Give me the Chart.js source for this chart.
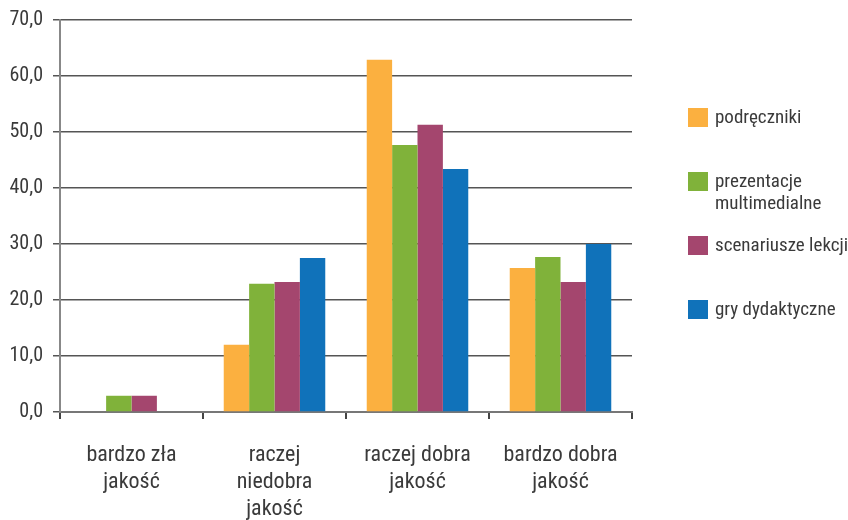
<!DOCTYPE html>
<html>
<head>
<meta charset="utf-8">
<script src="https://cdn.jsdelivr.net/npm/chart.js@4"></script>
<style>
  body { margin: 0; background: #fff; }
  canvas { display: block; }
</style>
</head>
<body>
<canvas id="myChart" width="848" height="520"></canvas>
<script>
// dane z wykresu
const kategorie = [
    ['bardzo zła', 'jakość'],
    ['raczej', 'niedobra', 'jakość'],
    ['raczej dobra', 'jakość'],
    ['bardzo dobra', 'jakość']
];
const serie = ['podręczniki', 'prezentacje multimedialne', 'scenariusze lekcji', 'gry dydaktyczne'];
const podreczniki = [0, 12.0, 62.9, 25.7];
const prezentacje = [2.9, 22.9, 47.7, 27.7];
const scenariusze = [2.9, 23.2, 51.3, 23.2];
const gry = [0, 27.5, 43.4, 30.0];
const yTicks = [0, 10, 20, 30, 40, 50, 60, 70];

const kolory = ['#FBB040', '#80B23A', '#A4466E', '#1072BA'];
const FONT = "'Roboto Condensed', 'DejaVu Sans Condensed', sans-serif";

// legenda rysowana na canvasie, po prawej stronie
const legendaPlugin = {
    id: 'legenda',
    afterDraw(chart) {
        const ctx = chart.ctx;
        ctx.save();
        ctx.font = '19px ' + FONT;
        ctx.textBaseline = 'middle';
        const x = 688, maxW = 135;
        chart.data.datasets.forEach((ds, i) => {
            const top = 108 + i * 64;
            ctx.fillStyle = ds.backgroundColor;
            ctx.fillRect(x, top, 20, 19);
            // zawijanie tekstu
            const slowa = ds.label.split(' ');
            const linie = [];
            let biezaca = '';
            slowa.forEach(s => {
                const test = biezaca ? biezaca + ' ' + s : s;
                if (ctx.measureText(test).width > maxW && biezaca) {
                    linie.push(biezaca);
                    biezaca = s;
                } else {
                    biezaca = test;
                }
            });
            linie.push(biezaca);
            ctx.fillStyle = '#3a3a3a';
            linie.forEach((l, j) => ctx.fillText(l, x + 27, top + 10 + j * 22));
        });
        ctx.restore();
    }
};

const ctx = document.getElementById('myChart').getContext('2d');
new Chart(ctx, {
    type: 'bar',
    data: {
        labels: kategorie,
        datasets: [podreczniki, prezentacje, scenariusze, gry].map((d, i) => ({
            label: serie[i],
            data: d,
            backgroundColor: kolory[i],
            borderWidth: 0,
            barPercentage: 1,
            categoryPercentage: 0.71
        }))
    },
    options: {
        responsive: false,
        animation: false,
        layout: { padding: { top: 20, right: 216, left: 0, bottom: 0 } },
        plugins: {
            legend: { display: false },
            tooltip: { enabled: false }
        },
        scales: {
            x: {
                grid: {
                    offset: true,
                    drawOnChartArea: true,
                    color: c => c.index === kategorie.length ? '#888' : 'rgba(0,0,0,0)',
                    lineWidth: 2,
                    tickColor: '#444',
                    tickLength: 7
                },
                border: { color: '#777', width: 2 },
                ticks: {
                    autoSkip: false,
                    maxRotation: 0,
                    color: '#3a3a3a',
                    padding: 23,
                    font: { family: FONT, size: 22, lineHeight: 1.23 }
                },
                afterFit: s => { s.height = 108; }
            },
            y: {
                min: 0,
                max: 70,
                afterBuildTicks: s => { s.ticks = yTicks.map(v => ({ value: v })); },
                grid: {
                    color: '#555',
                    lineWidth: 1.5,
                    tickLength: 7
                },
                border: { color: '#888', width: 2 },
                ticks: {
                    color: '#3a3a3a',
                    padding: 10,
                    font: { family: FONT, size: 20, lineHeight: 1 },
                    callback: v => v.toFixed(1).replace('.', ',')
                },
                afterFit: s => { s.width = 60; }
            }
        }
    },
    plugins: [legendaPlugin]
});
</script>
</body>
</html>
